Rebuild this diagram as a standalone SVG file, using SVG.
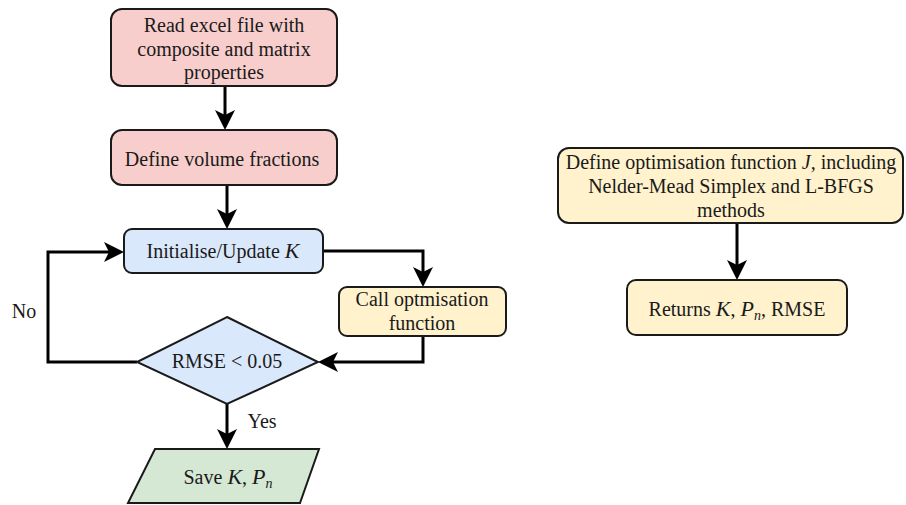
<svg xmlns="http://www.w3.org/2000/svg" width="906" height="505" viewBox="0 0 906 505">
<style>
.box{stroke:#1a1a1a;stroke-width:2}
.pink{fill:#f8cecc}.blue{fill:#dae8fc}.yellow{fill:#fff2cc}.green{fill:#d5e8d4}
text{font-family:"Liberation Serif","Times New Roman",serif;font-size:20px;fill:#1a1a1a;text-anchor:middle}
.m{font-style:italic;font-size:22px}
.s{font-style:italic;font-size:14px}
.conn{fill:none;stroke:#000;stroke-width:3}
</style>
<defs>
<marker id="arr" viewBox="0 0 20 20" refX="14" refY="10" markerWidth="20" markerHeight="20" markerUnits="userSpaceOnUse" orient="auto">
<path d="M0,0 L20,10 L0,20 L5,10 Z" fill="#000"/>
</marker>
</defs>
<g id="connectors">
<path class="conn" d="M225,86 V124" marker-end="url(#arr)"/>
<path class="conn" d="M227,185 V223" marker-end="url(#arr)"/>
<path class="conn" d="M323,251 H423 V281" marker-end="url(#arr)"/>
<path class="conn" d="M423,336 V362 H324" marker-end="url(#arr)"/>
<path class="conn" d="M137,362 H48 V252 H118" marker-end="url(#arr)"/>
<path class="conn" d="M227,404 V443" marker-end="url(#arr)"/>
<path class="conn" d="M737,223 V274" marker-end="url(#arr)"/>
</g>
<g id="read">
<rect class="box pink" x="111" y="9" width="226" height="77" rx="11"/>
<text x="224" y="32">Read excel file with</text>
<text x="224" y="56">composite and matrix</text>
<text x="224" y="79">properties</text>
</g>
<g id="volume">
<rect class="box pink" x="111" y="130" width="226" height="55" rx="11"/>
<text x="222" y="166">Define volume fractions</text>
</g>
<g id="init">
<rect class="box blue" x="124" y="229" width="199" height="44" rx="8"/>
<text x="223" y="258">Initialise/Update <tspan class="m" font-size="20">K</tspan></text>
</g>
<g id="call">
<rect class="box yellow" x="339" y="287" width="167" height="49" rx="8"/>
<text x="422" y="306">Call optmisation</text>
<text x="422" y="330">function</text>
</g>
<g id="rmse">
<polygon class="box blue" points="227,317 318,362 227,404 137,362"/>
<text x="227" y="368">RMSE &lt; 0.05</text>
</g>
<g id="save">
<polygon class="box green" points="155,449 319,449 300,503 128,503"/>
<text x="228" y="484">Save <tspan class="m">K</tspan>, <tspan class="m">P</tspan><tspan class="s" dy="4">n</tspan></text>
</g>
<g id="labels">
<text x="24" y="318">No</text>
<text x="262" y="428">Yes</text>
</g>
<g id="define">
<rect class="box yellow" x="558" y="148" width="345" height="75" rx="11"/>
<text x="731" y="169">Define optimisation function <tspan font-style="italic">J,</tspan> including</text>
<text x="731" y="193">Nelder-Mead Simplex and L-BFGS</text>
<text x="731" y="217">methods</text>
</g>
<g id="returns">
<rect class="box yellow" x="627" y="280" width="220" height="55" rx="9"/>
<text x="737" y="316">Returns <tspan class="m">K</tspan>, <tspan class="m">P</tspan><tspan class="s" dy="4">n</tspan><tspan dy="-4">, RMSE</tspan></text>
</g>
</svg>
